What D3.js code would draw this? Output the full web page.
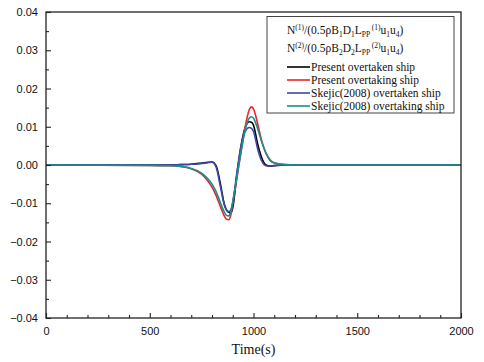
<!DOCTYPE html>
<html><head><meta charset="utf-8">
<script src="https://cdn.jsdelivr.net/npm/d3@7"></script>
<style>body{margin:0;background:#fff}svg{display:block}</style>
</head><body>
<svg id="c" width="484" height="362"></svg>
<script>
const times = [0,500,600,650,700,750,780,800,820,840,860,870,880,890,900,920,940,960,980,990,1000,1020,1040,1060,1080,1100,1150,1200,1500,2000];
const presentOvertaken = [0,0,0,0.0001,0.0002,0.0005,0.0007,0.0008,-0.0002,-0.0048,-0.0104,-0.0118,-0.0123,-0.0126,-0.0112,-0.0025,0.0050,0.0098,0.0113,0.0112,0.0104,0.0055,0.0018,0.0000,-0.0003,-0.0002,0,0,0,0];
const presentOvertaking = [0,-0.0001,-0.0002,-0.0004,-0.0010,-0.0024,-0.0042,-0.0058,-0.0080,-0.0108,-0.0134,-0.0142,-0.0143,-0.0132,-0.0100,-0.0035,0.0035,0.0100,0.0145,0.0152,0.0147,0.0108,0.0062,0.0030,0.0012,0.0005,0.0001,0,0,0];
const skejicOvertaken = [0,0,0,0.0001,0.0002,0.0004,0.0006,0.0007,-0.0006,-0.0055,-0.0105,-0.0117,-0.0122,-0.0118,-0.0100,-0.0020,0.0050,0.0088,0.0098,0.0096,0.0088,0.0042,0.0010,-0.0002,-0.0003,-0.0001,0,0,0,0];
const skejicOvertaking = [0,-0.0001,-0.0002,-0.0004,-0.0009,-0.0021,-0.0036,-0.0050,-0.0070,-0.0098,-0.0124,-0.0132,-0.0133,-0.0124,-0.0095,-0.0030,0.0035,0.0092,0.0123,0.0126,0.0122,0.0095,0.0060,0.0032,0.0014,0.0006,0.0001,0,0,0];
const seriesNames = ["Present overtaken ship","Present overtaking ship","Skejic(2008) overtaken ship","Skejic(2008) overtaking ship"];
const seriesColors = ["#000000","#e8262b","#3f48a8","#15908a"];
const xTicks = [0,500,1000,1500,2000];
const yTicks = [-0.04,-0.03,-0.02,-0.01,0.00,0.01,0.02,0.03,0.04];
const xLabel = "Time(s)";

const svg = d3.select("#c");
const L=46, R=461, T=12, B=318;
const x = d3.scaleLinear().domain([0,2000]).range([L,R]);
const y = d3.scaleLinear().domain([-0.04,0.04]).range([B,T]);

const allSeries = [presentOvertaken,presentOvertaking,skejicOvertaken,skejicOvertaking];
const line = d3.line().x((d,i)=>x(times[i])).y(d=>y(d)).curve(d3.curveMonotoneX);
const plot = svg.append("g");
allSeries.forEach((s,k)=>{
  plot.append("path").datum(s).attr("d",line).attr("fill","none")
    .attr("stroke",seriesColors[k]).attr("stroke-width",1.6);
});

// frame
svg.append("rect").attr("x",L).attr("y",T).attr("width",R-L).attr("height",B-T)
  .attr("fill","none").attr("stroke","#222").attr("stroke-width",1.3);

// x axis
const xa = svg.append("g").attr("transform",`translate(0,${B})`)
  .call(d3.axisBottom(x).tickValues(xTicks).tickSize(-5).tickPadding(9).tickFormat(d3.format("d")));
xa.select(".domain").remove();
svg.append("g").attr("transform",`translate(0,${B})`)
  .call(d3.axisBottom(x).tickValues(d3.range(100,2000,100).filter(v=>v%500)).tickSize(-3).tickFormat(""))
  .select(".domain").remove();
// y axis
const ya = svg.append("g").attr("transform",`translate(${L},0)`)
  .call(d3.axisLeft(y).tickValues(yTicks).tickSize(-5).tickPadding(8).tickFormat(d3.format(".2f")));
ya.select(".domain").remove();
svg.append("g").attr("transform",`translate(${L},0)`)
  .call(d3.axisLeft(y).tickValues(d3.range(-0.035,0.04,0.01)).tickSize(-3).tickFormat(""))
  .select(".domain").remove();
svg.selectAll(".tick line").attr("stroke","#222").attr("stroke-width",1.1);
svg.selectAll(".tick text").attr("font-family","Liberation Sans, Arial, sans-serif").attr("font-size",11).attr("fill","#111");

svg.append("text").attr("x",(L+R)/2).attr("y",354).attr("text-anchor","middle")
  .attr("font-family","Liberation Serif, Times New Roman, serif").attr("font-size",14).attr("fill","#111").text(xLabel);

// legend
const lg = svg.append("g").attr("font-family","Liberation Serif, Times New Roman, serif").attr("font-size",11.5).attr("fill","#111");
lg.append("rect").attr("x",267).attr("y",16.5).attr("width",187).attr("height",96.5)
  .attr("fill","#fff").attr("stroke","#444").attr("stroke-width",1);
function formula(yy, n){
  const t = lg.append("text").attr("x",287).attr("y",yy);
  const parts = [["N",0],["("+n+")",1],["/(0.5ρB",0],[n,-1],["D",0],[n,-1],["L",0],["PP",-1],[" ("+n+")",1],["u",0],["1",-1],["u",0],["4",-1],[")",0]];
  let cur=0;
  parts.forEach(([s,m])=>{
    const ts = t.append("tspan").text(s);
    const target = m===1?-4:(m===-1?3:0);
    if(m!==0) ts.attr("font-size",7.5);
    ts.attr("dy",target-cur); cur=target;
  });
}
formula(34,1);
formula(52,2);
const rowY=[67,80,93,106];
seriesNames.forEach((nm,k)=>{
  lg.append("line").attr("x1",287).attr("x2",310).attr("y1",rowY[k]).attr("y2",rowY[k])
    .attr("stroke",seriesColors[k]).attr("stroke-width",1.6);
  lg.append("text").attr("x",311).attr("y",rowY[k]+4).text(nm);
});
</script>
</body></html>
